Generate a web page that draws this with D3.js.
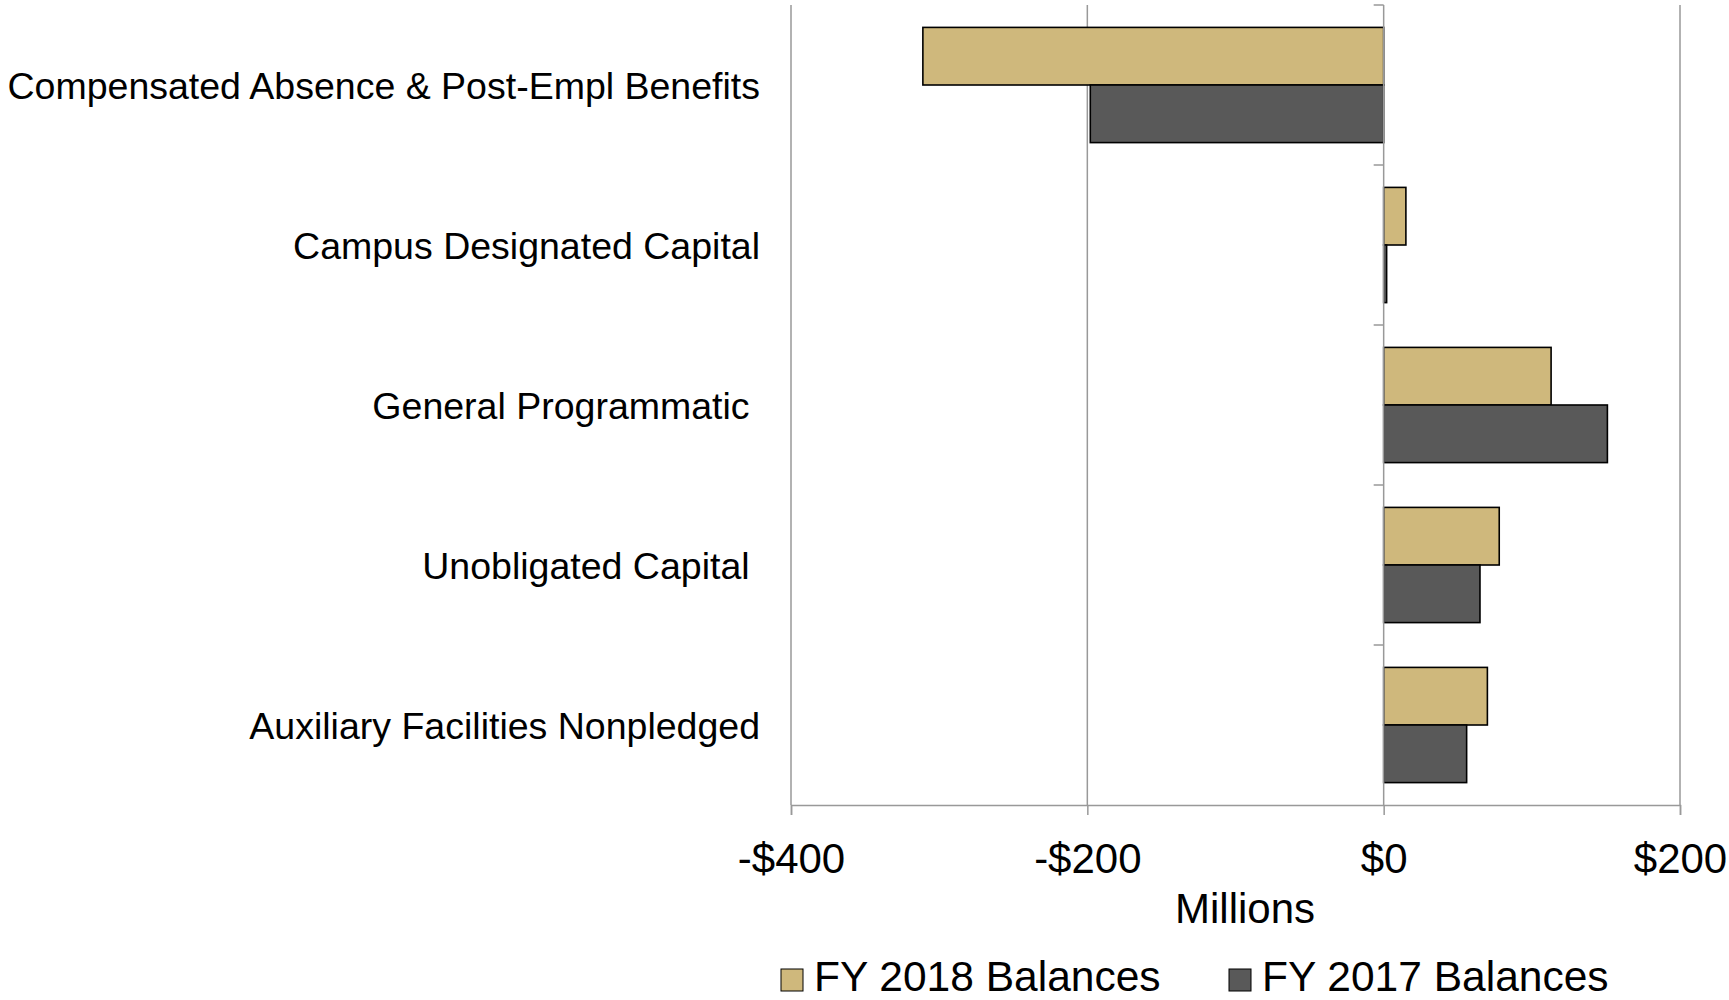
<!DOCTYPE html>
<html>
<head>
<meta charset="utf-8">
<script src="https://cdn.jsdelivr.net/npm/d3@7"></script>
<style>
  body { margin: 0; background: #fff; }
  svg text { font-family: "Liberation Sans", Arial, sans-serif; fill: #000; white-space: pre; }
</style>
</head>
<body>
<svg id="chart" width="1729" height="1000"></svg>
<script>
const categories = [
  "Compensated Absence & Post-Empl Benefits",
  "Campus Designated Capital",
  "General Programmatic ",
  "Unobligated Capital ",
  "Auxiliary Facilities Nonpledged"
];
const seriesNames = ["FY 2018 Balances", "FY 2017 Balances"];
const fy2018 = [-311, 15, 113, 78, 70];
const fy2017 = [-198, 2, 151, 65, 56];
const xTicks = [-400, -200, 0, 200];
const colors = ["#cfb87c", "#595959"];

const svg = d3.select("#chart");
const plotLeft = 791, plotRight = 1680, plotTop = 5, plotBottom = 805;

const x = d3.scaleLinear().domain([-400, 200]).range([plotLeft, plotRight]);
const y = d3.scaleBand().domain(categories).range([plotTop, plotBottom])
  .paddingInner(0.28).paddingOuter(0.14);
const y1 = d3.scaleBand().domain(seriesNames).range([0, y.bandwidth()]);

const rows = categories.map((c, i) => ({ cat: c, values: [fy2018[i], fy2017[i]] }));

// gridlines
svg.append("g")
  .selectAll("line")
  .data(xTicks.filter(d => d !== 0))
  .join("line")
  .attr("x1", d => x(d)).attr("x2", d => x(d))
  .attr("y1", plotTop).attr("y2", plotBottom)
  .attr("stroke", "#999").attr("stroke-width", 1.5);

// bars
const groups = svg.append("g")
  .selectAll("g")
  .data(rows)
  .join("g")
  .attr("transform", d => `translate(0,${y(d.cat)})`);

groups.selectAll("rect")
  .data(d => d.values.map((v, j) => ({ v, s: seriesNames[j], j })))
  .join("rect")
  .attr("x", d => x(Math.min(0, d.v)))
  .attr("y", d => y1(d.s))
  .attr("width", d => Math.abs(x(d.v) - x(0)))
  .attr("height", y1.bandwidth())
  .attr("fill", d => colors[d.j])
  .attr("stroke", "#000")
  .attr("stroke-width", 1.6);

// x axis
const xAxis = d3.axisBottom(x)
  .tickValues(xTicks)
  .tickSize(10)
  .tickPadding(28)
  .tickFormat(d => (d < 0 ? "-" : "") + "$" + Math.abs(d));

svg.append("g")
  .attr("transform", `translate(0,${plotBottom})`)
  .call(xAxis)
  .call(g => g.select(".domain").attr("stroke", "#999").attr("stroke-width", 1.5))
  .call(g => g.selectAll(".tick line").attr("stroke", "#999").attr("stroke-width", 1.5))
  .call(g => g.selectAll(".tick text")
    .attr("font-size", 42)
    .attr("font-family", "Liberation Sans, Arial, sans-serif")
    .attr("fill", "#000"));

// y axis at zero
const gap = (y.step() - y.bandwidth()) / 2;
const boundaries = categories.map(c => y(c) - gap);
const yAxis = svg.append("g");
yAxis.append("line")
  .attr("x1", x(0)).attr("x2", x(0))
  .attr("y1", plotTop).attr("y2", plotBottom)
  .attr("stroke", "#999").attr("stroke-width", 1.5);
yAxis.selectAll("line.tick")
  .data(boundaries)
  .join("line")
  .attr("class", "tick")
  .attr("x1", x(0) - 10).attr("x2", x(0))
  .attr("y1", d => d).attr("y2", d => d)
  .attr("stroke", "#999").attr("stroke-width", 1.5);

// category labels
svg.append("g")
  .selectAll("text")
  .data(categories)
  .join("text")
  .attr("x", 760)
  .attr("y", d => y(d) + y.bandwidth() / 2)
  .attr("dy", "0.36em")
  .attr("text-anchor", "end")
  .attr("font-size", 37.5)
  .text(d => d);

// axis title
svg.append("text")
  .attr("x", 1245)
  .attr("y", 923)
  .attr("text-anchor", "middle")
  .attr("font-size", 42)
  .text("Millions");

// legend
const legendX = [781, 1229];
const legend = svg.append("g")
  .selectAll("g")
  .data(seriesNames)
  .join("g")
  .attr("transform", (d, i) => `translate(${legendX[i]},969)`);
legend.append("rect")
  .attr("width", 22).attr("height", 22)
  .attr("fill", (d, i) => colors[i])
  .attr("stroke", "#000").attr("stroke-width", 1);
legend.append("text")
  .attr("x", 33)
  .attr("y", 22)
  .attr("font-size", 42.5)
  .text(d => d);
</script>
</body>
</html>
